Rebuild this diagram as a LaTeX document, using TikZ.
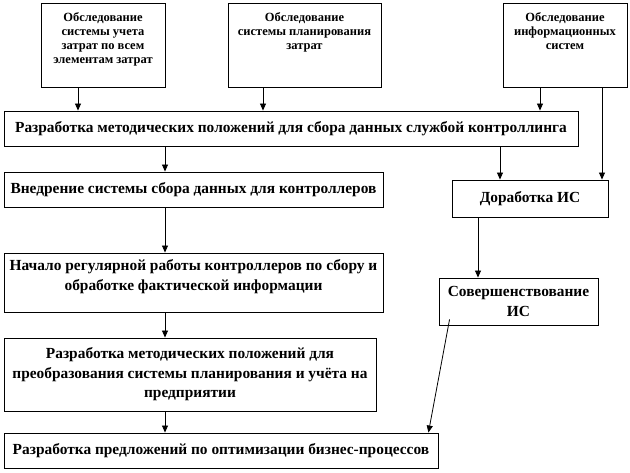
\documentclass[tikz,border=0pt]{standalone}
\usepackage{fontspec}
\setmainfont{Liberation Serif}
\usetikzlibrary{arrows.meta}
\begin{document}
\begin{tikzpicture}[x=1pt,y=-1pt,
  box/.style={draw,line width=0.9pt,rectangle,inner sep=0pt},
  small/.style={font=\fontsize{12.5}{14}\selectfont\bfseries,align=center,inner sep=0pt},
  big/.style={font=\fontsize{15.4}{19.5}\selectfont\bfseries,align=center,inner sep=0pt},
  arr/.style={line width=0.8pt,-{Triangle[width=6pt,length=7pt]}}]
\useasboundingbox (0,0) rectangle (630,473);
% top boxes
\node[box,minimum width=124pt,minimum height=84pt] (b1) at (103,45) {};
\node[small,anchor=north] (t1) at ([yshift=-10pt]b1.north) {Обследование\\системы учета\\затрат по всем\\элементам затрат};
\node[box,minimum width=153pt,minimum height=84pt] (b2) at (304.5,45) {};
\node[small,anchor=north] (t2) at ([yshift=-10pt]b2.north) {Обследование\\системы планирования\\затрат};
\node[box,minimum width=124pt,minimum height=84pt] (b3) at (565,45) {};
\node[small,anchor=north] (t3) at ([yshift=-10pt]b3.north) {Обследование\\информационных\\систем};
% main
\node[box,big,minimum width=574pt,minimum height=35pt] (main) at (291,128.5) {Разработка методических положений для сбора данных службой контроллинга};
\node[box,big,minimum width=379pt,minimum height=35pt] (vn) at (193.5,189.5) {Внедрение системы сбора данных для контроллеров};
\node[box,big,minimum width=156pt,minimum height=37pt] (dor) at (530,198.5) {Доработка ИС};
\node[box,minimum width=379pt,minimum height=59pt] (nach) at (193.5,282.5) {};
\node[big,anchor=north] (tn) at ([yshift=-7pt]nach.north) {Начало регулярной работы контроллеров по сбору и\\обработке фактической информации};
\node[box,big,minimum width=159pt,minimum height=47pt] (sov) at (518.5,301.5) {Совершенствование\\ИС};
\node[box,big,minimum width=372pt,minimum height=73pt] (r2) at (190,374.5) {Разработка методических положений для\\преобразования системы планирования и учёта на\\предприятии};
\node[box,big,minimum width=434pt,minimum height=35pt] (pr) at (221,450.5) {Разработка предложений по оптимизации бизнес-процессов};
% arrows
\draw[arr] (78,0 |- b1.south) -- (78,0 |- main.north);
\draw[arr] (263,0 |- b2.south) -- (263,0 |- main.north);
\draw[arr] (540,0 |- b3.south) -- (540,0 |- main.north);
\draw[arr] (602,0 |- b3.south) -- (602,0 |- dor.north);
\draw[arr] (165,0 |- main.south) -- (165,0 |- vn.north);
\draw[arr] (500,0 |- main.south) -- (500,0 |- dor.north);
\draw[arr] (165,0 |- vn.south) -- (165,0 |- nach.north);
\draw[arr] (165,0 |- nach.south) -- (165,0 |- r2.north);
\draw[arr] (165,0 |- r2.south) -- (165,0 |- pr.north);
\draw[arr] (478,0 |- dor.south) -- (478,0 |- sov.north);
\draw[arr] ([shift={(11pt,6pt)}]sov.south west) -- ([xshift=-10pt]pr.north east);
\end{tikzpicture}
\end{document}
